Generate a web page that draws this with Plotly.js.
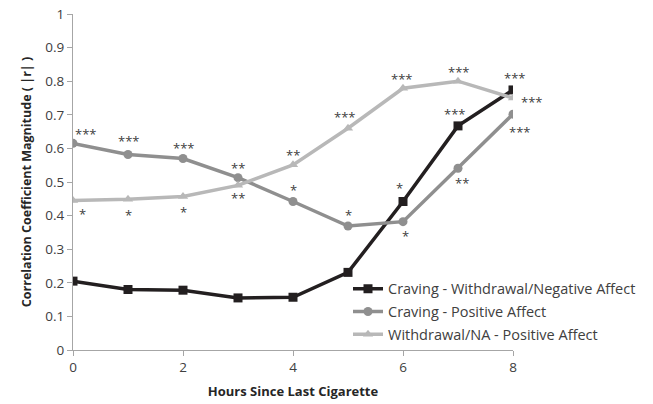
<!DOCTYPE html>
<html>
<head>
<meta charset="utf-8">
<script src="https://cdn.plot.ly/plotly-3.0.1.min.js"></script>
<style>html,body{margin:0;padding:0;background:#fff;}#chart{width:653px;height:404px;}</style>
</head>
<body>
<div id="chart"></div>
<script>
const hours = [0, 1, 2, 3, 4, 5, 6, 7, 8];
const seriesNames = ["Craving - Withdrawal/Negative Affect", "Craving - Positive Affect", "Withdrawal/NA - Positive Affect"];
const cravingWNA = [0.205, 0.180, 0.178, 0.155, 0.157, 0.231, 0.442, 0.667, 0.774];
const cravingPA = [0.615, 0.582, 0.570, 0.513, 0.442, 0.369, 0.382, 0.541, 0.702];
const wnaPA = [0.445, 0.449, 0.457, 0.490, 0.551, 0.660, 0.779, 0.800, 0.750];
// significance labels per point
const sigCravingWNA = ["", "", "", "", "", "", "*", "***", "***"];
const sigCravingPA = ["***", "***", "***", "**", "*", "*", "*", "**", "***"];
const sigWnaPA = ["*", "*", "*", "**", "**", "***", "***", "***", "***"];
const xTicks = [0, 2, 4, 6, 8];
const yTicks = [0, 0.1, 0.2, 0.3, 0.4, 0.5, 0.6, 0.7, 0.8, 0.9, 1];

// label placement offsets (px)
const offCravingWNA = [[0,0],[0,0],[0,0],[0,0],[0,0],[0,0],[-4,13],[-4,12],[1,12]];
const offCravingPA = [[12,9],[0,13],[0,10],[0,10],[0,11],[0,11],[2,-14],[4,-15],[6,-18]];
const offWnaPA = [[9,-14],[0,-16],[0,-16],[0,-13],[0,10],[-4,11],[-2,9],[0,9],[18,-4]];

const colors = ["#231f20", "#8f8f8f", "#b8b8b8"];
const traces = [
  {x: hours, y: cravingWNA, name: seriesNames[0], legendgroup: "a", mode: "lines+markers",
   line: {color: colors[0], width: 3.5}, marker: {symbol: "square", size: 9, color: colors[0]}},
  {x: hours, y: cravingPA, name: seriesNames[1], legendgroup: "b", mode: "lines+markers",
   line: {color: colors[1], width: 3.5}, marker: {symbol: "circle", size: 9, color: colors[1]}},
  {x: hours, y: wnaPA, name: seriesNames[2], legendgroup: "c", mode: "lines+markers",
   line: {color: colors[2], width: 3.5}, marker: {symbol: "triangle-up", size: 9, color: colors[2]}}
];

const annotations = [];
function addSig(ys, labels, offs) {
  labels.forEach((t, i) => {
    if (!t) return;
    annotations.push({x: hours[i], y: ys[i], text: t, showarrow: false,
      xshift: offs[i][0], yshift: offs[i][1],
      font: {family: "'Open Sans', 'DejaVu Sans', sans-serif", size: 13, color: "#404040"}});
  });
}
addSig(cravingWNA, sigCravingWNA, offCravingWNA);
addSig(cravingPA, sigCravingPA, offCravingPA);
addSig(wnaPA, sigWnaPA, offWnaPA);

const fam = "'Open Sans', Lato, sans-serif";
const axisFont = {family: fam, size: 13.5, color: "#404040"};
const layout = {
  width: 653, height: 404,
  margin: {l: 73, r: 140, t: 14, b: 54},
  paper_bgcolor: "#fff", plot_bgcolor: "#fff",
  showlegend: true,
  legend: {x: 0.625, y: 0.23, xanchor: "left", yanchor: "top",
    font: {family: fam, size: 14.5, color: "#404040"},
    bgcolor: "rgba(0,0,0,0)", tracegroupgap: 1, itemwidth: 30},
  xaxis: {range: [0, 8], tickvals: xTicks, ticktext: xTicks.map(String),
    showgrid: false, zeroline: false, showline: true, linecolor: "#a6a6a6", linewidth: 1,
    ticks: "outside", ticklen: 5, tickcolor: "#a6a6a6", tickfont: axisFont,
    title: {text: "<b>Hours Since Last Cigarette</b>", font: {family: fam, size: 13, color: "#262626"}, standoff: 11}},
  yaxis: {range: [0, 1], tickvals: yTicks, ticktext: yTicks.map(String),
    showgrid: false, zeroline: false, showline: true, linecolor: "#a6a6a6", linewidth: 1,
    ticks: "outside", ticklen: 5, tickcolor: "#a6a6a6", tickfont: axisFont,
    title: {text: "<b>Correlation Coefficient Magnitude ( |r| )</b>", font: {family: fam, size: 12.5, color: "#262626"}, standoff: 10}},
  annotations: annotations
};
Plotly.newPlot("chart", traces, layout, {displayModeBar: false, staticPlot: true});
</script>
</body>
</html>
